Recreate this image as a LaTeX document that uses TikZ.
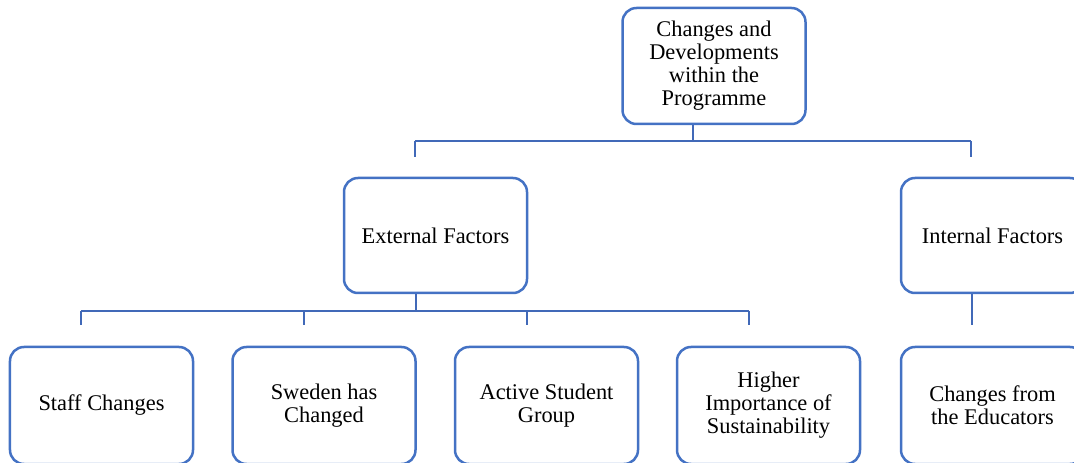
\documentclass[tikz,border=0pt]{standalone}
\usepackage{fontspec}
\setmainfont{Liberation Serif}
\definecolor{boxblue}{HTML}{4472C4}
\definecolor{lineblue}{HTML}{4169B8}
\newcommand\boxfont{\fontsize{22.5}{23}\selectfont}
\begin{document}
\begin{tikzpicture}[x=1bp,y=-1bp,
  box/.style={draw=boxblue, line width=2.5bp, rounded corners=14bp, fill=white,
    minimum width=183bp, minimum height=116bp, align=center, inner sep=0pt, font=\boxfont},
  conn/.style={draw=lineblue, line width=2.6bp}]
\useasboundingbox (0,0) rectangle (1074,463);
\clip (0,0) rectangle (1074,463);
% boxes
\node[box] (top) at (714,66) {Changes and\\Developments\\within the\\Programme};
\node[box, minimum height=115bp] (ext) at (435.5,235.5) {External Factors};
\node[box, minimum height=115bp] (int) at (992.5,235.5) {Internal Factors};
\node[box, minimum height=117bp] (staff) at (101.5,405.5) {Staff Changes};
\node[box, minimum height=117bp] (swe) at (324,405.5) {Sweden has\\Changed};
\node[box, minimum height=117bp] (act) at (546.5,405.5) {Active Student\\Group};
\node[box, minimum height=117bp] (hig) at (768.5,405.5) {Higher\\Importance of\\Sustainability};
\node[box, minimum height=117bp] (edu) at (992.5,405.5) {Changes from\\the Educators};
% top-level connectors
\coordinate (t0) at (693,141);
\coordinate (b1) at (415,141);
\coordinate (b2) at (971,141);
\coordinate (d1) at (415,157);
\coordinate (d2) at (971,157);
\draw[conn] (top.south -| t0) -- (t0);
\draw[conn] (b1) -- (b2);
\draw[conn] (b1) -- (d1);
\draw[conn] (b2) -- (d2);
% external factors connectors
\coordinate (e0) at (416,311);
\coordinate (e1) at (81,311);
\coordinate (e4) at (749,311);
\coordinate (f1) at (81,325);
\coordinate (f2) at (304,325);
\coordinate (f3) at (527,325);
\coordinate (f4) at (749,325);
\draw[conn] (ext.south -| e0) -- (e0);
\draw[conn] (e1) -- (e4);
\draw[conn] (e1) -- (f1);
\draw[conn] (f2 |- e0) -- (f2);
\draw[conn] (f3 |- e0) -- (f3);
\draw[conn] (e4) -- (f4);
% internal factors connector
\coordinate (i0) at (972,325);
\draw[conn] (int.south -| i0) -- (i0);
\end{tikzpicture}
\end{document}
